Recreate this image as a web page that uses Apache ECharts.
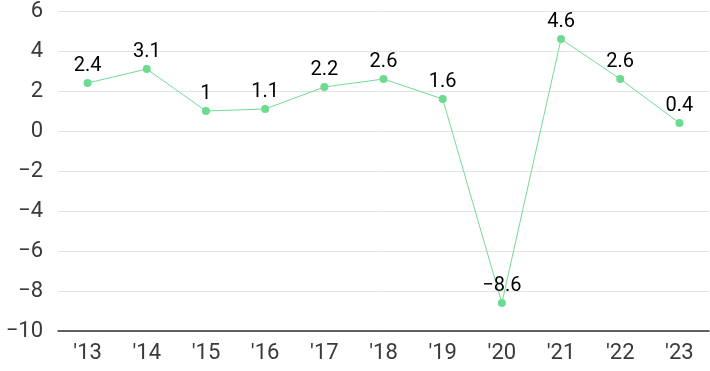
<!DOCTYPE html>
<html><head><meta charset="utf-8">
<script src="https://cdn.jsdelivr.net/npm/echarts@6/dist/echarts.min.js"></script>
<style>html,body{margin:0;padding:0;background:#fff}#c{width:710px;height:371px}</style>
</head><body><div id="c"></div>
<script>
const categories = ["'13","'14","'15","'16","'17","'18","'19","'20","'21","'22","'23"];
const values = [2.4, 3.1, 1, 1.1, 2.2, 2.6, 1.6, -8.6, 4.6, 2.6, 0.4];
const yTicks = {min: -10, max: 6, interval: 2};
const chart = echarts.init(document.getElementById('c'), null, {renderer: 'canvas'});
chart.setOption({
  animation: false,
  backgroundColor: '#fff',
  grid: {left: 58, right: 1, top: 8, bottom: 40, containLabel: false},
  xAxis: {
    type: 'category', data: categories, boundaryGap: true,
    axisLine: {show: true, onZero: false, lineStyle: {color: '#333', width: 1.5}},
    axisTick: {show: false},
    axisLabel: {color: '#3a3a3a', fontSize: 22, fontFamily: 'Roboto', margin: 11}
  },
  yAxis: {
    type: 'value', min: yTicks.min, max: yTicks.max, interval: yTicks.interval,
    axisLine: {show: false}, axisTick: {show: false},
    axisLabel: {color: '#3a3a3a', fontSize: 22, fontFamily: 'Roboto', margin: 15,
      formatter: v => String(v).replace('-', '\u2212')},
    splitLine: {lineStyle: {color: '#e3e3e3', width: 1}}
  },
  series: [{
    type: 'line', data: values,
    symbol: 'circle', symbolSize: 8,
    lineStyle: {color: '#72dc95', width: 1},
    itemStyle: {color: '#6bdb90'},
    label: {show: true, position: 'top', distance: 3, color: '#000', fontSize: 20, fontFamily: 'Roboto',
      formatter: p => String(p.value).replace('-', '\u2212')}
  }]
});
</script></body></html>
